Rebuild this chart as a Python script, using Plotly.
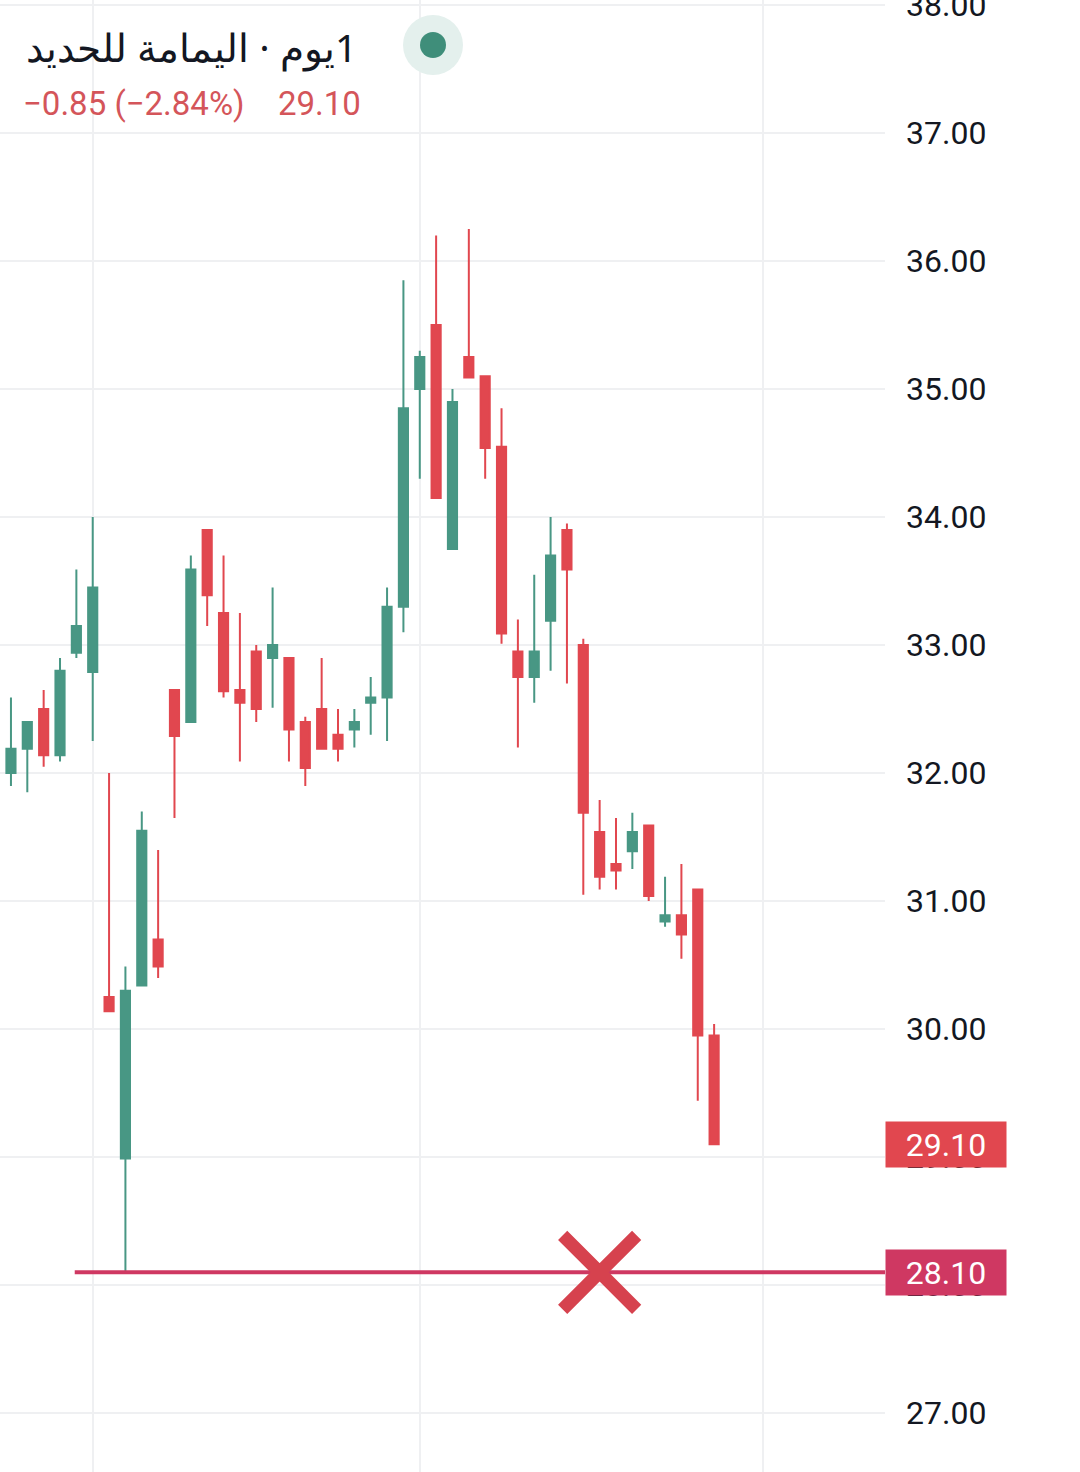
import plotly.graph_objects as go

# ---- data ----
opens = [32.00, 32.19, 32.50, 32.14, 32.94, 32.79, 30.25, 28.99, 30.34, 30.70,
         32.65, 32.40, 33.90, 33.25, 32.65, 32.95, 32.90, 32.90, 32.40, 32.50,
         32.30, 32.34, 32.55, 32.59, 33.30, 35.00, 35.50, 33.75, 35.25, 35.10,
         34.55, 32.95, 32.75, 33.19, 33.90, 33.00, 31.54, 31.29, 31.39, 31.59,
         30.84, 30.89, 31.09, 29.95]
highs = [32.59, 32.40, 32.65, 32.90, 33.59, 34.00, 32.00, 30.49, 31.70, 31.40,
         32.65, 33.70, 33.90, 33.70, 33.25, 33.00, 33.45, 32.90, 32.44, 32.90,
         32.50, 32.50, 32.75, 33.45, 35.85, 35.30, 36.20, 35.00, 36.25, 35.10,
         34.85, 33.20, 33.55, 34.00, 33.95, 33.05, 31.79, 31.65, 31.69, 31.59,
         31.19, 31.29, 31.09, 30.04]
lows = [31.90, 31.85, 32.05, 32.09, 32.90, 32.25, 30.14, 28.10, 30.34, 30.40,
        31.65, 32.40, 33.15, 32.59, 32.09, 32.40, 32.51, 32.09, 31.90, 32.19,
        32.09, 32.20, 32.30, 32.25, 33.10, 34.30, 34.15, 33.75, 35.09, 34.30,
        33.01, 32.20, 32.55, 32.80, 32.70, 31.05, 31.09, 31.09, 31.25, 31.00,
        30.80, 30.55, 29.44, 29.10]
closes = [32.19, 32.40, 32.14, 32.80, 33.15, 33.45, 30.14, 30.30, 31.55, 30.49,
          32.29, 33.59, 33.39, 32.64, 32.55, 32.50, 33.00, 32.34, 32.04, 32.19,
          32.19, 32.40, 32.59, 33.30, 34.85, 35.25, 34.15, 34.90, 35.09, 34.54,
          33.09, 32.75, 32.95, 33.70, 33.59, 31.69, 31.19, 31.24, 31.54, 31.04,
          30.89, 30.74, 29.95, 29.10]
bar_index = list(range(len(opens)))
month_breaks = [5, 25, 46]
y_ticks = [27, 28, 29, 30, 31, 32, 33, 34, 35, 36, 37, 38]

last_price = 29.10
support_level = 28.10
support_start = 3.9
cross_at = 36

title_text = "\u202B1يوم · اليمامة للحديد\u202C"
change_text = "−0.85 (−2.84%)"
price_text = "29.10"

# ---- style ----
GREEN = "#489784"
RED = "#e1474f"
PINK = "#cf3862"
GRID = "#eff0f2"
W, H = 1080, 1472
R_MARGIN = 195
PLOT_W = W - R_MARGIN

fig = go.Figure()

fig.add_trace(go.Candlestick(
    x=bar_index, open=opens, high=highs, low=lows, close=closes,
    increasing=dict(line=dict(color=GREEN, width=2), fillcolor=GREEN),
    decreasing=dict(line=dict(color=RED, width=2), fillcolor=RED),
    whiskerwidth=0, showlegend=False, hoverinfo="skip",
))

fig.add_trace(go.Scatter(
    x=[support_start, 200], y=[support_level, support_level],
    mode="lines", line=dict(color=PINK, width=4),
    showlegend=False, hoverinfo="skip",
))

fig.add_trace(go.Scatter(
    x=[cross_at], y=[support_level], mode="markers",
    marker=dict(symbol="x-thin", size=74, color="#d6424e",
                line=dict(color="#d6424e", width=13)),
    showlegend=False, hoverinfo="skip",
))

# price labels on the right axis
for val, col in [(last_price, RED), (support_level, PINK)]:
    fig.add_annotation(
        x=1, xref="paper", xanchor="left", y=val, yref="y", yanchor="middle",
        text=f"{val:.2f}", showarrow=False, bgcolor=col,
        font=dict(family="Roboto", size=32, color="white"),
        width=116, height=41, borderpad=2, align="center",
    )

# header
fig.add_annotation(
    x=24 / PLOT_W, xref="paper", xanchor="left",
    y=1 - 46 / H, yref="paper", yanchor="middle",
    text=title_text, showarrow=False,
    font=dict(family="Noto Sans, Roboto", size=39, color="#131722"),
)
fig.add_annotation(
    x=21 / PLOT_W, xref="paper", xanchor="left",
    y=1 - 103 / H, yref="paper", yanchor="middle",
    text=change_text, showarrow=False,
    font=dict(family="Roboto", size=33, color="#d4555a"),
)
fig.add_annotation(
    x=276 / PLOT_W, xref="paper", xanchor="left",
    y=1 - 103 / H, yref="paper", yanchor="middle",
    text=price_text, showarrow=False,
    font=dict(family="Roboto", size=33, color="#d4555a"),
)

# status dot
for rad, col in [(30, "#e4f0ed"), (13, "#3f8e7a")]:
    fig.add_shape(
        type="circle", xref="paper", yref="paper",
        xsizemode="pixel", ysizemode="pixel",
        xanchor=433 / PLOT_W, yanchor=1 - 45 / H,
        x0=-rad, x1=rad, y0=-rad, y1=rad,
        fillcolor=col, line=dict(width=0), layer="above",
    )

fig.update_layout(
    width=W, height=H,
    margin=dict(l=0, r=R_MARGIN, t=0, b=0, autoexpand=False),
    paper_bgcolor="white", plot_bgcolor="white",
    boxgap=0.2,
    xaxis=dict(
        range=[-0.67, 53.45], rangeslider=dict(visible=False),
        tickvals=month_breaks, showticklabels=False, ticks="",
        showgrid=True, gridcolor=GRID, gridwidth=2,
        zeroline=False, showline=False, automargin=False,
    ),
    yaxis=dict(
        side="right", range=[26.54, 38.04],
        tickvals=y_ticks, tickformat=".2f", ticks="",
        ticklabelstandoff=20, ticklabeloverflow="allow", automargin=False,
        tickfont=dict(family="Roboto", size=32, color="#131722"),
        showgrid=True, gridcolor=GRID, gridwidth=2,
        zeroline=False, showline=False,
    ),
)

fig.write_html(
    "out.html",
    config={"displayModeBar": False},
    post_script="document.body.style.margin='0';document.body.style.overflow='hidden';",
)
